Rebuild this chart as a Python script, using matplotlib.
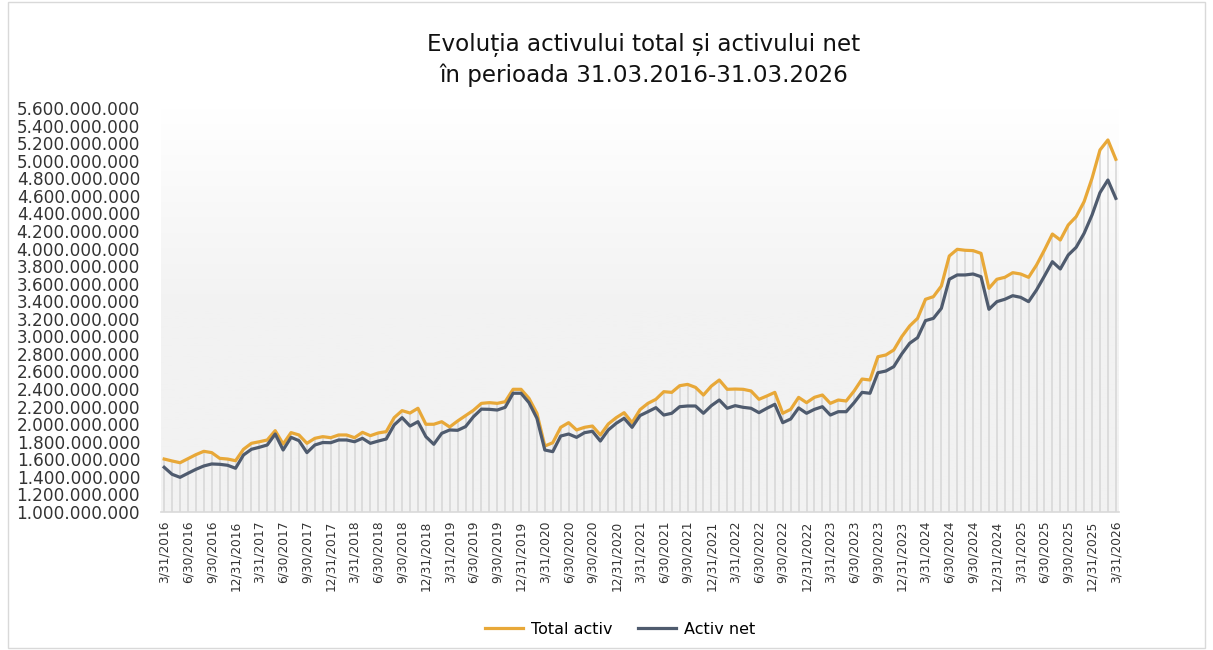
import matplotlib
matplotlib.use("Agg")
import matplotlib.pyplot as plt
from matplotlib.patches import Rectangle
import numpy as np
import pandas as pd

# monthly values, millions RON, 31.03.2016 - 31.03.2026
total_activ = [1603, 1581, 1561, 1607, 1653, 1691, 1676, 1611, 1603, 1584, 1714, 1782, 1800, 1820, 1926, 1774, 1904, 1877, 1782, 1839, 1858,
               1846, 1877, 1877, 1846, 1907, 1869, 1900, 1915, 2074, 2154, 2127, 2181, 1999, 1999, 2028, 1968, 2036, 2097, 2158, 2237,
               2245, 2237, 2256, 2397, 2397, 2294, 2124, 1751, 1789, 1964, 2017, 1934, 1964, 1979, 1877, 2002, 2074, 2131, 2017, 2165,
               2237, 2283, 2370, 2362, 2438, 2453, 2419, 2332, 2434, 2503, 2397, 2400, 2397, 2378, 2283, 2321, 2362, 2124, 2169, 2305,
               2245, 2306, 2332, 2237, 2275, 2264, 2378, 2514, 2503, 2768, 2788, 2845, 2996, 3118, 3205, 3422, 3452, 3573, 3915, 3991, 3980,
               3976, 3945, 3547, 3650, 3672, 3725, 3710, 3672, 3812, 3983, 4165, 4097, 4268, 4363, 4534, 4800, 5122, 5236, 5016]
activ_net = [1509, 1429, 1395, 1441, 1486, 1524, 1547, 1543, 1532, 1498, 1649, 1714, 1737, 1763, 1888, 1706, 1850, 1812, 1676, 1763, 1791,
             1789, 1820, 1820, 1800, 1839, 1782, 1808, 1831, 1991, 2074, 1979, 2028, 1858, 1771, 1896, 1934, 1930, 1972, 2085, 2171,
             2169, 2161, 2192, 2352, 2352, 2245, 2067, 1706, 1687, 1865, 1888, 1850, 1903, 1919, 1808, 1934, 2010, 2067, 1964, 2098,
             2142, 2188, 2104, 2124, 2199, 2207, 2207, 2124, 2211, 2275, 2181, 2211, 2192, 2181, 2131, 2181, 2226, 2017, 2059, 2185,
             2124, 2169, 2199, 2104, 2142, 2142, 2245, 2362, 2352, 2586, 2605, 2655, 2799, 2921, 2985, 3179, 3205, 3319, 3650, 3699, 3699,
             3710, 3679, 3308, 3395, 3422, 3463, 3444, 3395, 3528, 3687, 3850, 3767, 3926, 4014, 4173, 4382, 4636, 4780, 4571]

dates = pd.date_range("2016-03-31", periods=len(total_activ), freq="ME")
date_labels = [f"{d.month}/{d.day}/{d.year}" for d in dates]

title = "Evoluția activului total și activului net\nîn perioada 31.03.2016-31.03.2026"

plt.rcParams['font.family'] = ['DejaVu Sans']

fig = plt.figure(figsize=(12.13, 6.5), dpi=100)
ax = fig.add_axes([161 / 1213, 1 - 512 / 650, (1119 - 161) / 1213, (512 - 108) / 650])

x = np.arange(len(total_activ))
tot = np.array(total_activ) * 1e6
net = np.array(activ_net) * 1e6

ax.set_xlim(-0.4, len(x) - 0.6)
ax.set_ylim(1.0e9, 5.6e9)

# gradient plot area
grad = np.linspace(0, 1, 256).reshape(-1, 1)
cmap = matplotlib.colors.LinearSegmentedColormap.from_list("g", ["#f2f2f2", "#f2f2f2", "#ffffff"])
ax.imshow(grad, cmap=cmap, aspect="auto", origin="lower",
          extent=[-0.4, len(x) - 0.6, 1.0e9, 5.6e9], zorder=0)

ax.vlines(x, 1.0e9, tot, color="#d6d6d6", lw=1.1, zorder=1)
l1, = ax.plot(x, tot, color="#E8A838", lw=2.3, label="Total activ", zorder=3)
l2, = ax.plot(x, net, color="#4F5B6E", lw=2.3, label="Activ net", zorder=3)

yt = np.arange(1.0e9, 5.6e9 + 1, 2e8)
ax.set_yticks(yt)
ax.set_yticklabels([f"{int(v):,}".replace(",", ".") for v in yt], fontsize=12.2, color="#333333")
ax.set_xticks(x[::3])
ax.set_xticklabels(date_labels[::3], rotation=90, fontsize=8.8, color="#333333")
ax.tick_params(length=0)
ax.tick_params(axis="x", pad=6)
ax.tick_params(axis="y", pad=15)

for s in ["top", "right", "left"]:
    ax.spines[s].set_visible(False)
ax.spines["bottom"].set_color("#d9d9d9")
ax.spines["bottom"].set_linewidth(1.2)

fig.text(644 / 1213, 1 - 60 / 650, title, ha="center", va="center", fontsize=16.6,
         color="#111111", linespacing=1.4)

fig.legend(handles=[l1, l2], loc="center", ncol=2, frameon=False, fontsize=11.5,
           bbox_to_anchor=(620 / 1213, 1 - 629 / 650), handlelength=2.4, columnspacing=1.6,
           handletextpad=0.5)

fig.patches.append(Rectangle((8 / 1213, 2 / 650), 1197 / 1213, 646 / 650, transform=fig.transFigure,
                             fill=False, edgecolor="#d9d9d9", lw=1))

fig.savefig("out.png", dpi=100)
